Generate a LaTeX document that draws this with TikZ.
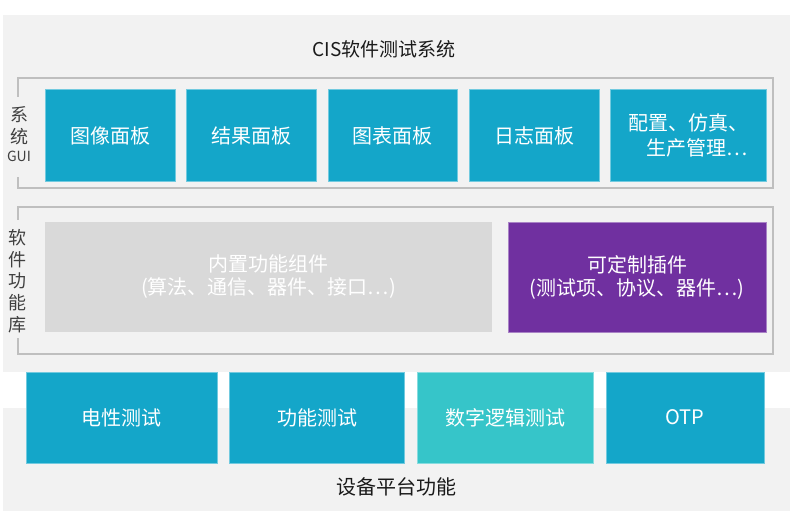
\documentclass[tikz,border=0pt]{standalone}
\usepackage{fontspec}
\setmainfont{Noto Sans CJK SC}
\definecolor{cblue}{HTML}{14A6C9}
\definecolor{cteal}{HTML}{36C5C9}
\definecolor{cpurple}{HTML}{7030A0}
\definecolor{cbg}{HTML}{F2F2F2}
\definecolor{clg}{HTML}{D9D9D9}
\definecolor{cframe}{HTML}{BFBFBF}
\definecolor{ctext}{HTML}{1A1A1A}
\definecolor{clabel}{HTML}{404040}
\tikzset{
  boxbase/.style={inner sep=0pt, text=white, align=center, font=\fontsize{20}{25}\selectfont},
  bluebox/.style={boxbase, fill=cblue, draw=cblue!60!white, line width=0.6pt},
  tealbox/.style={boxbase, fill=cteal, draw=cteal!60!white, line width=0.6pt},
  purplebox/.style={boxbase, fill=cpurple, draw=cpurple!60!white, line width=0.6pt},
  greybox/.style={boxbase, fill=clg, text=white, font=\fontsize{20}{23}\selectfont},
  frameline/.style={draw=cframe, line width=1.4pt},
  sidelabel/.style={text=clabel, inner sep=0pt, align=center},
}
\begin{document}
\begin{tikzpicture}[x=1pt,y=-1pt]
\useasboundingbox (0,0) rectangle (800,529);
% backgrounds
\fill[cbg] (3,15) rectangle (790,372);
\fill[cbg] (3,408) rectangle (790,511);
\node[text=ctext, inner sep=0pt, font=\fontsize{19}{23}\selectfont] (title) at (384,49) {CIS软件测试系统};
% GUI frame
\draw[frameline] (18,97) -- (18,78) -- (773,78) -- (773,188) -- (18,188) -- (18,177);
\node[sidelabel, font=\fontsize{18}{22}\selectfont] (lblxi) at (19,115) {系};
\node[sidelabel, font=\fontsize{18}{22}\selectfont] (lbltong) at (19,137) {统};
\node[sidelabel, font=\fontsize{14}{16}\selectfont] (lblgui) at (19,156) {GUI};
\node[bluebox, minimum width=130pt, minimum height=92pt] (g1) at (110,135.8) {图像面板};
\node[bluebox, minimum width=130pt, minimum height=92pt] (g2) at (251,135.8) {结果面板};
\node[bluebox, minimum width=129pt, minimum height=92pt] (g3) at (392.5,135.8) {图表面板};
\node[bluebox, minimum width=130pt, minimum height=92pt] (g4) at (534,135.8) {日志面板};
\node[bluebox, minimum width=156pt, minimum height=92pt, align=right] (g5) at (688,135.8) {配置、仿真、\\生产管理…};
% library frame
\draw[frameline] (18,220) -- (18,207) -- (773,207) -- (773,354) -- (18,354) -- (18,338);
\node[sidelabel, font=\fontsize{18}{21.7}\selectfont] (lbllib) at (18,281) {软\\件\\功\\能\\库};
\node[greybox, minimum width=447pt, minimum height=110pt] (builtin) at (268.5,277) {内置功能组件\\(算法、通信、器件、接口…)};
\node[purplebox, minimum width=258pt, minimum height=110pt, font=\fontsize{20}{23}\selectfont] (plugin) at (637,277) {可定制插件\\(测试项、协议、器件…)};
% platform
\node[bluebox, minimum width=191pt, minimum height=91pt] (p1) at (121.5,417.5) {电性测试};
\node[bluebox, minimum width=174.5pt, minimum height=91pt] (p2) at (317,417.5) {功能测试};
\node[tealbox, minimum width=175.5pt, minimum height=91pt] (p3) at (505.5,417.5) {数字逻辑测试};
\node[bluebox, minimum width=158pt, minimum height=91pt] (p4) at (685,417.5) {OTP};
\node[text=ctext, inner sep=0pt, font=\fontsize{20}{24}\selectfont] (platform) at (396,487) {设备平台功能};
\end{tikzpicture}
\end{document}
